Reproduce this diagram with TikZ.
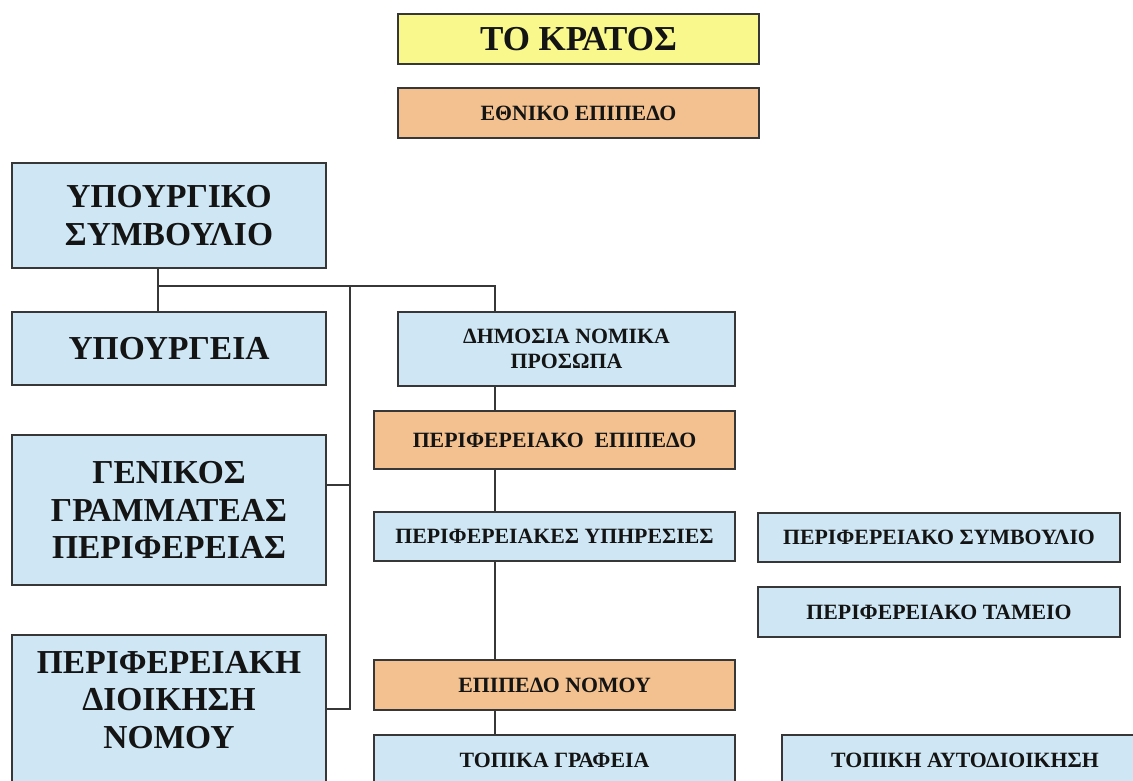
\documentclass[tikz,border=0pt]{standalone}
\usepackage{fontspec}
\setmainfont{Liberation Serif}
\definecolor{boxblue}{RGB}{207,231,244}
\definecolor{boxorange}{RGB}{242,193,143}
\definecolor{boxyellow}{RGB}{248,248,140}
\definecolor{linegrey}{RGB}{55,55,55}
\tikzset{
  box/.style={draw=linegrey, line width=1.4pt, inner sep=0pt, align=center,
    text=black!92, font=\bfseries\fontsize{21.8}{25}\selectfont},
  bluebox/.style={box, fill=boxblue},
  levelbox/.style={box, fill=boxorange},
  bigtext/.style={font=\bfseries\fontsize{33.5}{37.5}\selectfont},
  link/.style={draw=linegrey, line width=1.4pt},
}

\begin{document}
\begin{tikzpicture}[x=1pt, y=-1pt]
  \clip (0,0) rectangle (1133,780);
  \fill[white] (0,0) rectangle (1133,780);

  % national level
  \node[box, fill=boxyellow, minimum width=361, minimum height=50,
    font=\bfseries\fontsize{35}{40}\selectfont] (kratos) at (578.5,39) {ΤΟ ΚΡΑΤΟΣ};
  \node[levelbox, minimum width=361, minimum height=50] (ethniko) at (578.5,113) {ΕΘΝΙΚΟ ΕΠΙΠΕΔΟ};

  % left column
  \node[bluebox, bigtext, minimum width=314, minimum height=105] (ypsym) at (169,215.5) {ΥΠΟΥΡΓΙΚΟ\\ΣΥΜΒΟΥΛΙΟ};
  \node[bluebox, bigtext, minimum width=314, minimum height=73] (ypourg) at (169,348.5) {ΥΠΟΥΡΓΕΙΑ};
  \node[bluebox, bigtext, minimum width=314, minimum height=150] (genik) at (169,510) {ΓΕΝΙΚΟΣ\\ΓΡΑΜΜΑΤΕΑΣ\\ΠΕΡΙΦΕΡΕΙΑΣ};
  \node[bluebox, minimum width=314, minimum height=200] (perdioik) at (169,735) {};
  \node[bigtext, align=center, text=black!92] (perdioiktxt) at (169,700) {ΠΕΡΙΦΕΡΕΙΑΚΗ\\ΔΙΟΙΚΗΣΗ\\ΝΟΜΟΥ};

  % middle column
  \node[bluebox, minimum width=337, minimum height=74] (dimos) at (566.5,349) {ΔΗΜΟΣΙΑ ΝΟΜΙΚΑ\\ΠΡΟΣΩΠΑ};
  \node[levelbox, minimum width=361, minimum height=58] (perepip) at (554.5,440) {ΠΕΡΙΦΕΡΕΙΑΚΟ\ \ ΕΠΙΠΕΔΟ};
  \node[bluebox, minimum width=361, minimum height=49] (peryp) at (554.5,536.5) {ΠΕΡΙΦΕΡΕΙΑΚΕΣ ΥΠΗΡΕΣΙΕΣ};
  \node[levelbox, minimum width=361, minimum height=50] (epnom) at (554.5,685) {ΕΠΙΠΕΔΟ ΝΟΜΟΥ};
  \node[bluebox, minimum width=361, minimum height=50] (topgr) at (554.5,760) {ΤΟΠΙΚΑ ΓΡΑΦΕΙΑ};

  % right column
  \node[bluebox, minimum width=362, minimum height=49] (persym) at (939,537.5) {ΠΕΡΙΦΕΡΕΙΑΚΟ ΣΥΜΒΟΥΛΙΟ};
  \node[bluebox, minimum width=362, minimum height=50] (pertam) at (939,612) {ΠΕΡΙΦΕΡΕΙΑΚΟ ΤΑΜΕΙΟ};
  \node[bluebox, minimum width=366, minimum height=50] (topaut) at (965,760) {ΤΟΠΙΚΗ ΑΥΤΟΔΙΟΙΚΗΣΗ};

  % connectors
  \coordinate (j0) at (158,286);
  \coordinate (j1) at (350,286);
  \coordinate (j2) at (495,286);
  \coordinate (j3) at (350,485);
  \coordinate (j4) at (350,709);
  \draw[link] (ypsym.south -| j0) -- (ypourg.north -| j0);
  \draw[link] (j0) -- (j2) -- (dimos.north -| j2);
  \draw[link] (j1) -- (j4) -- (j4 -| perdioik.east);
  \draw[link] (j3) -- (j3 -| genik.east);
  \draw[link] (dimos.south -| j2) -- (perepip.north -| j2);
  \draw[link] (perepip.south -| j2) -- (peryp.north -| j2);
  \draw[link] (peryp.south -| j2) -- (epnom.north -| j2);
  \draw[link] (epnom.south -| j2) -- (topgr.north -| j2);
\end{tikzpicture}
\end{document}
